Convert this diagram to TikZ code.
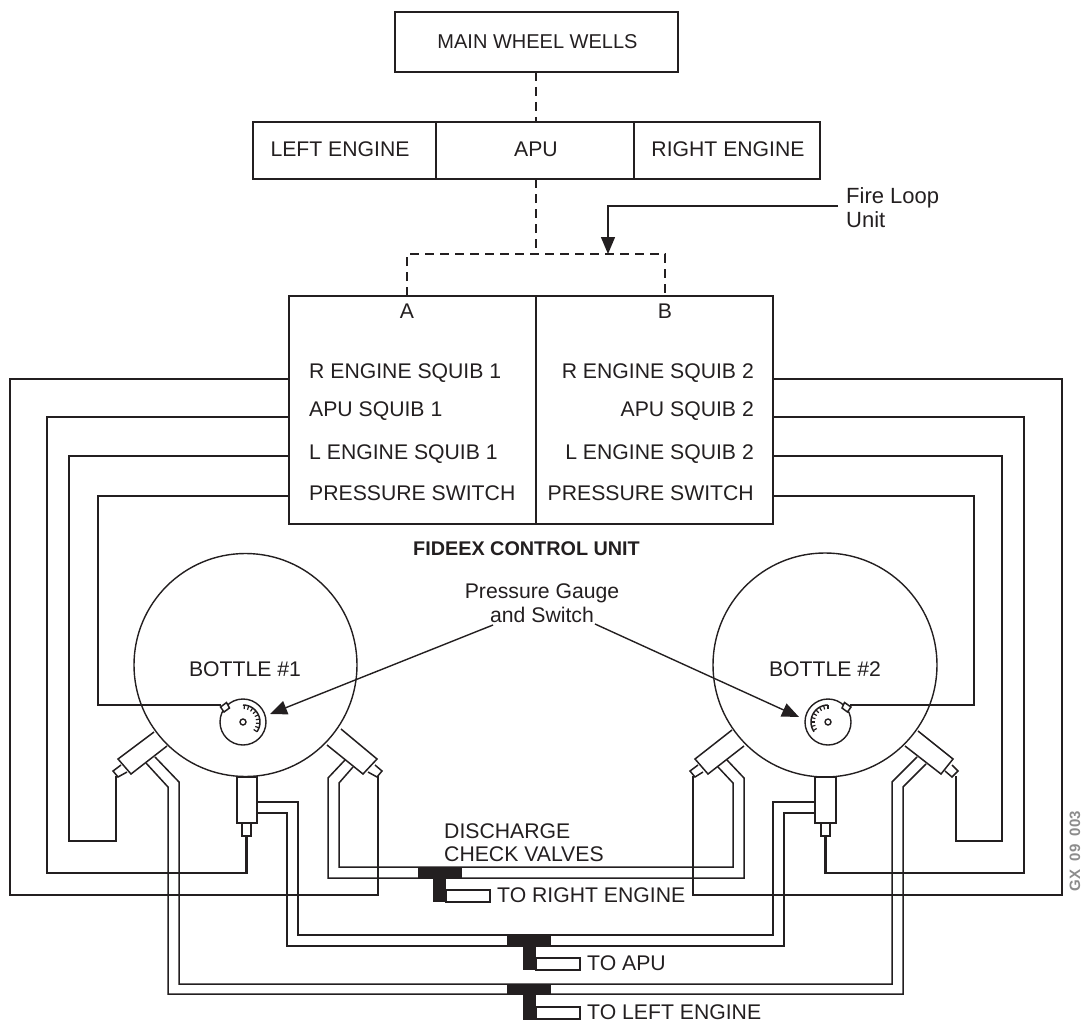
\documentclass[tikz,border=0pt]{standalone}
\usepackage{fontspec}
\setmainfont{Liberation Sans}
\usetikzlibrary{arrows.meta}
\definecolor{ink}{HTML}{231F20}
\tikzset{
  boxs/.style={draw=ink,line width=1.4pt,rectangle,inner sep=0pt},
  lbl/.style={inner sep=0pt,text=ink,text height=14pt,text depth=0pt,font=\fontsize{21.2}{21}\selectfont},
  wire/.style={draw=ink,line width=2.8pt,line join=miter},
  pipe/.style={draw=ink,line width=1.5pt,line join=miter},
  thin line/.style={draw=ink,line width=1.4pt},
  dash line/.style={draw=ink,line width=1.5pt,dash pattern=on 9pt off 6pt},
  blackfill/.style={fill=ink,draw=none},
  tip/.style={-{Triangle[length=17pt,width=14pt]}},
}
\begin{document}
\begin{tikzpicture}[x=1pt,y=-1pt]
\useasboundingbox (0,0) rectangle (1082,1022);
% top boxes
\node[boxs,minimum width=283pt,minimum height=60pt] (main) at (536.5,42) {};
\node[lbl,font=\fontsize{20}{20}\selectfont] (mainT) at (537.5,42) {MAIN WHEEL WELLS};
\node[boxs,minimum width=183pt,minimum height=57pt] (le) at (344.5,150.5) {};
\node[boxs,minimum width=198pt,minimum height=57pt] (apu) at (535,150.5) {};
\node[boxs,minimum width=186pt,minimum height=57pt] (re) at (727,150.5) {};
\node[lbl] (leT) at (340,150) {LEFT ENGINE};
\node[lbl] (apuT) at (536,150) {APU};
\node[lbl] (reT) at (728,150) {RIGHT ENGINE};
\coordinate (dtop) at (536,72);
\coordinate (dmid) at (536,122);
\coordinate (dlow) at (536,179);
\coordinate (djun) at (536,254);
\draw[dash line] (dtop) -- (dmid);
\draw[dash line] (dlow) -- (djun);
% control unit
\node[boxs,minimum width=247pt,minimum height=228pt] (ca) at (412.5,410) {};
\node[boxs,minimum width=237pt,minimum height=228pt] (cb) at (654.5,410) {};
\coordinate (pa) at (407,296);
\coordinate (pb) at (665,296);
\draw[dash line] (pa) -- (407,254) -- (665,254) -- (pb);
\coordinate (ffrom) at (838,206);
\coordinate (fto) at (608,254);
\draw[thin line,tip] (ffrom) -| (fto);
\node[lbl,anchor=west,font=\fontsize{22}{22}\selectfont] (fire1) at (846,197) {Fire Loop};
\node[lbl,anchor=west,font=\fontsize{22}{22}\selectfont] (fire2) at (846,220) {Unit};
\node[lbl] (A) at (407,311) {A};
\node[lbl] (B) at (665,311) {B};
\node[lbl,anchor=west] (l1) at (309,371) {R ENGINE SQUIB 1};
\node[lbl,anchor=west] (l2) at (309,409) {APU SQUIB 1};
\node[lbl,anchor=west] (l3) at (309,452) {L ENGINE SQUIB 1};
\node[lbl,anchor=west] (l4) at (309,493) {PRESSURE SWITCH};
\node[lbl,anchor=east] (r1) at (754,371) {R ENGINE SQUIB 2};
\node[lbl,anchor=east] (r2) at (754,409) {APU SQUIB 2};
\node[lbl,anchor=east] (r3) at (754,452) {L ENGINE SQUIB 2};
\node[lbl,anchor=east] (r4) at (754,493) {PRESSURE SWITCH};
\node[lbl,font=\fontsize{19.8}{20}\selectfont\bfseries] (fid) at (526.5,548) {FIDEEX CONTROL UNIT};
% bottles
\node[boxs,circle,minimum size=223pt] (b1) at (245.5,665) {};
\node[boxs,circle,minimum size=224pt] (b2) at (825,665) {};
\node[lbl] (b1T) at (245,669) {BOTTLE \#1};
\node[lbl] (b2T) at (825,669) {BOTTLE \#2};
\node[boxs,circle,minimum size=46pt] (g1) at (243,722) {};
\node[boxs,circle,minimum size=46pt] (g2) at (828,722) {};
\draw[thin line] (243,722) circle[radius=3];
\draw[thin line] (828,722) circle[radius=3];
\foreach \a in {-35,-20,...,90}{
  \draw[ink,line width=1.2pt] ({243+17*cos(\a)},{722-17*sin(\a)}) -- ({243+13*cos(\a)},{722-13*sin(\a)});
}
\foreach \a in {90,105,...,215}{
  \draw[ink,line width=1.2pt] ({828+17*cos(\a)},{722-17*sin(\a)}) -- ({828+13*cos(\a)},{722-13*sin(\a)});
}
\draw[ink,line width=1.5pt] plot[domain=-35:90,samples=20,smooth] ({243+17*cos(\x)},{722-17*sin(\x)});
\draw[ink,line width=1.5pt] plot[domain=90:215,samples=20,smooth] ({828+17*cos(\x)},{722-17*sin(\x)});
% gauge labels
\node[lbl] (pg1) at (542,591) {Pressure Gauge};
\node[lbl] (pg2) at (542,615) {and Switch};
\coordinate (a1s) at (493,625);
\coordinate (a1e) at (270,714);
\coordinate (a2s) at (595,624);
\coordinate (a2e) at (799,717);
\draw[thin line,tip] (a1s) -- (a1e);
\draw[thin line,tip] (a2s) -- (a2e);
% squib valves bottle 1
\draw[pipe] (154,732) -- (118,759) -- (131,774) -- (167,746);
\draw[pipe] (121,765) -- (113,771) -- (118,777) -- (127,772);
\draw[pipe] (341,729) -- (377,759) -- (363,774) -- (327,745);
\draw[pipe] (375,765) -- (382,771) -- (377,777) -- (368,772);
\node[boxs,minimum width=20pt,minimum height=46pt] (v1) at (247,800) {};
\node[boxs,minimum width=9pt,minimum height=13pt] (v1s) at (246.5,829.5) {};
% squib valves bottle 2
\draw[pipe] (732,730) -- (695,759) -- (708,774) -- (744,746);
\draw[pipe] (698,765) -- (690,771) -- (695,777) -- (703,772);
\draw[pipe] (918,731) -- (953,759) -- (941,774) -- (905,746);
\draw[pipe] (952,765) -- (958,771) -- (952,777) -- (945,771);
\node[boxs,minimum width=21pt,minimum height=46pt] (v2) at (825.5,800) {};
\node[boxs,minimum width=9pt,minimum height=13pt] (v2s) at (825.5,829.5) {};
% wires left
\path[wire] (ca.west |- 0,379) -- (10,379) -- (10,895) -- (378,895) -- (378,776);
\path[wire] (ca.west |- 0,417) -- (47,417) -- (47,873) -- (246.5,873) -- (v1s.south);
\path[wire] (ca.west |- 0,456) -- (69,456) -- (69,841) -- (116,841) -- (116,776);
\path[wire] (ca.west |- 0,496) -- (98,496) -- (98,705) -- (221,705);
% wires right
\path[wire] (cb.east |- 0,379) -- (1062,379) -- (1062,895) -- (693,895) -- (693,776);
\path[wire] (cb.east |- 0,417) -- (1024,417) -- (1024,873) -- (825.5,873) -- (v2s.south);
\path[wire] (cb.east |- 0,456) -- (1002,456) -- (1002,841) -- (956,841) -- (956,776);
\path[wire] (cb.east |- 0,496) -- (974,496) -- (974,705) -- (850,705);
% gauge nubs
\draw[pipe,fill=white] (226.5,702.5) -- (220.5,707) -- (224,712) -- (229.5,708) -- cycle;
\draw[pipe,fill=white] (844.5,702.5) -- (851,707) -- (847.5,712) -- (842,708) -- cycle;
% discharge pipes
\path[pipe] (146,763) -- (168,787) -- (168,994) -- (903,994) -- (903,787) -- (926,764);
\path[pipe] (155,757) -- (179,782) -- (179,984) -- (892,984) -- (892,782) -- (917,757);
\path[pipe] (v1.east |- 0,813) -- (287,813) -- (287,946) -- (784,946) -- (784,813) -- (v2.west |- 0,813);
\path[pipe] (v1.east |- 0,802) -- (298,802) -- (298,935) -- (773,935) -- (773,802) -- (v2.west |- 0,802);
\path[pipe] (345,760) -- (328,778) -- (328,878) -- (744,878) -- (744,778) -- (727,760);
\path[pipe] (353,767) -- (339,783) -- (339,867) -- (733,867) -- (733,783) -- (718,767);
% tees
\fill[blackfill] (418,867) rectangle (462,878);
\fill[blackfill] (433,878) rectangle (446,902);
\draw[pipe] (446,890) rectangle (490,902);
\fill[blackfill] (507,935) rectangle (551,946);
\fill[blackfill] (523,946) rectangle (536,970);
\draw[pipe] (536,958) rectangle (580,970);
\fill[blackfill] (507,984) rectangle (551,995);
\fill[blackfill] (523,995) rectangle (536,1020);
\draw[pipe] (536,1007) rectangle (580,1019);
\node[lbl,anchor=west] (dc1) at (444,831) {DISCHARGE};
\node[lbl,anchor=west] (dc2) at (444,854) {CHECK VALVES};
\node[lbl,anchor=west] (tr) at (497,895) {TO RIGHT ENGINE};
\node[lbl,anchor=west] (ta) at (587,963) {TO APU};
\node[lbl,anchor=west] (tl) at (587,1012) {TO LEFT ENGINE};
\node[inner sep=0pt,rotate=90,text=black!45,font=\fontsize{15}{15}\selectfont\bfseries] (gx) at (1075,851) {GX\ \ 09\ \ 003};
\end{tikzpicture}
\end{document}
